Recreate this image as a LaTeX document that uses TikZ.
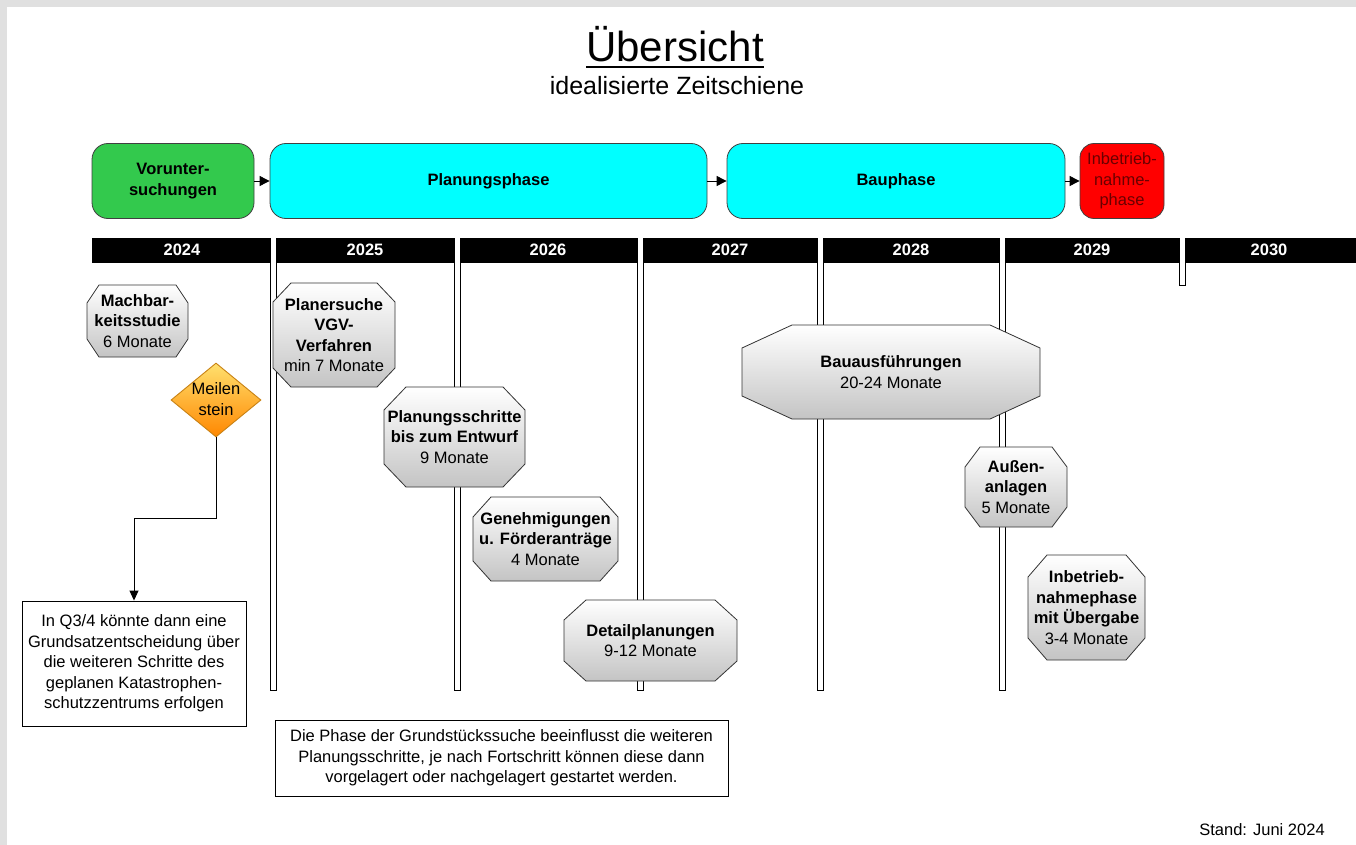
\documentclass[tikz,border=0pt]{standalone}
\usepackage{fontspec}
\setmainfont{Liberation Sans}
\usetikzlibrary{arrows.meta,shapes.geometric}
\definecolor{pagegray}{RGB}{224,224,224}
\definecolor{vgreen}{RGB}{51,201,77}
\definecolor{pcyan}{RGB}{0,255,255}
\definecolor{pred}{RGB}{255,0,0}
\definecolor{darkred}{RGB}{105,0,0}
\definecolor{octbot}{RGB}{196,196,196}
\definecolor{octmid}{RGB}{232,232,232}
\definecolor{diatop}{RGB}{255,224,110}
\definecolor{diabot}{RGB}{255,135,0}
\definecolor{diaedge}{RGB}{200,130,20}
\newcommand\fsn{\fontsize{16.5}{20.5}\selectfont}
\newcommand\fsb{\fontsize{16.5}{20.5}\selectfont\bfseries}
\newcommand\octn[8]{%
  \shadedraw[octshade] (#2+#6,#3) -- (#4-#6,#3) -- (#4,#3+#7) -- (#4,#5-#7) -- (#4-#6,#5) -- (#2+#6,#5) -- (#2,#5-#7) -- (#2,#3+#7) -- cycle;
  \node[octtext] (#1) at ({(#2+#4)/2},{(#3+#5)/2}) {#8};}
\begin{document}
\begin{tikzpicture}[x=1pt,y=-1pt,
  phase/.style={rounded corners=16pt, draw=black!75, line width=0.8pt, font=\fsb, align=center, inner sep=0pt, minimum height=75pt},
  year/.style={font=\fsb, text=white, inner sep=0pt},
  sepline/.style={draw=black, fill=white, line width=0.9pt},
  octshade/.style={top color=white, middle color=octmid, bottom color=octbot, draw=black!80, line width=0.8pt},
  octtext/.style={font=\fsn, align=center, inner sep=0pt, text=black},
  note/.style={draw=black, line width=0.9pt, font=\fsn, align=center, inner sep=0pt},
  parr/.style={draw=black, line width=0.9pt, -{Triangle[length=10pt,width=10pt]}}
]
\fill[pagegray] (0,0) rectangle (1356,845);
\fill[white] (7,7) rectangle (1356,845);
\path[use as bounding box] (0,0) rectangle (1356,845);

% title
\node[font=\fontsize{42}{48}\selectfont, inner sep=0pt, anchor=base] (title) at (675,62) {Übersicht};
\draw[line width=2.6pt] ([yshift=-5pt]title.base west) -- ([yshift=-5pt]title.base east);
\node[font=\fontsize{25}{30}\selectfont, inner sep=0pt, anchor=base] (sub) at (677,95) {idealisierte Zeitschiene};

% phases
\node[phase, fill=vgreen, minimum width=162pt] (vor) at (173,181) {Vorunter-\\suchungen};
\node[phase, fill=pcyan, minimum width=437pt] (plan) at (488.5,181) {Planungsphase};
\node[phase, fill=pcyan, minimum width=338pt] (bau) at (896,181) {Bauphase};
\node[phase, fill=pred, minimum width=84pt, rounded corners=14pt, font=\fsn, text=darkred] (inb) at (1122,181) {Inbetrieb-\\nahme-\\phase};
\draw[parr] (vor.east) -- (plan.west);
\draw[parr] (plan.east) -- (bau.west);
\draw[parr] (bau.east) -- (inb.west);

% timeline bar
\foreach \x in {273,457,640,820,1002} {\draw[sepline] (\x-3,238) rectangle (\x+3,690);}
\draw[sepline] (1179,238) rectangle (1185,285);
\fill[black] (92,238) rectangle (1356,263);
\foreach \x in {273,457,640,820,1002,1182} {\fill[white] (\x-2.5,238) rectangle (\x+2.5,263);}
\node[year] (y24) at (182,250) {2024};
\node[year] (y25) at (365,250) {2025};
\node[year] (y26) at (548,250) {2026};
\node[year] (y27) at (730,250) {2027};
\node[year] (y28) at (911,250) {2028};
\node[year] (y29) at (1092,250) {2029};
\node[year] (y30) at (1269,250) {2030};

% tasks
\octn{machb}{87}{285}{188}{357}{12}{18}{\textbf{Machbar-}\\\textbf{keitsstudie}\\6 Monate}
\octn{planer}{273}{283}{395}{387}{18}{19}{\textbf{Planersuche}\\\textbf{VGV-}\\\textbf{Verfahren}\\min 7 Monate}
\octn{plansch}{384}{387}{525}{487}{22}{23}{\textbf{Planungsschritte}\\\textbf{bis zum Entwurf}\\9 Monate}
\octn{genehm}{473}{497}{618}{581}{18}{20}{\textbf{Genehmigungen}\\\textbf{u. Förderanträge}\\4 Monate}
\octn{detail}{564}{600}{737}{681}{22}{20}{\textbf{Detailplanungen}\\9-12 Monate}
\octn{baua}{742}{325}{1040}{419}{50}{23}{\textbf{Bauausführungen}\\20-24 Monate}
\octn{aussen}{965}{447}{1067}{527}{15}{20}{\textbf{Außen-}\\\textbf{anlagen}\\5 Monate}
\octn{inbetr}{1028}{555}{1145}{660}{19}{22}{\textbf{Inbetrieb-}\\\textbf{nahmephase}\\\textbf{mit Übergabe}\\3-4 Monate}

% milestone
\node[diamond, minimum width=90pt, minimum height=74pt, inner sep=0pt, top color=diatop, bottom color=diabot, draw=diaedge, line width=0.9pt] (meil) at (216,400) {};
\node[font=\fsn, align=center, inner sep=0pt] (meiltxt) at (216,399) {Meilen\\stein};
\node[note, minimum width=224pt, minimum height=125pt] (q34) at (134,663.5) {In Q3/4 könnte dann eine\\Grundsatzentscheidung über\\die weiteren Schritte des\\geplanen Katastrophen-\\schutzzentrums erfolgen};
\draw[line width=0.9pt, -{Triangle[length=10pt,width=9pt]}] (meil.south) -- ++(0,81) -| (q34.north);

% notes
\node[note, minimum width=453pt, minimum height=76pt] (grund) at (501.5,758) {Die Phase der Grundstückssuche beeinflusst die weiteren\\Planungsschritte, je nach Fortschritt können diese dann\\vorgelagert oder nachgelagert gestartet werden.};
\node[font=\fsn, inner sep=0pt] (stand) at (1262,830) {Stand: Juni 2024};
\end{tikzpicture}
\end{document}
